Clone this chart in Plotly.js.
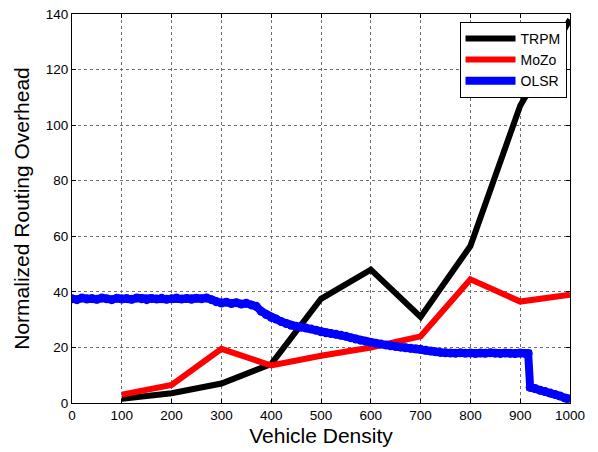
<!DOCTYPE html>
<html><head><meta charset="utf-8">
<script src="https://cdn.plot.ly/plotly-3.0.1.min.js"></script>
<style>html,body{margin:0;padding:0;background:#fff}#chart{width:598px;height:452px}</style>
</head><body><div id="chart"></div>
<script>
var density = [100,200,300,400,500,600,700,800,900,1000];
var trpm = [1.5,3.5,7,14,37.5,48,31,56.5,107,138];
var mozo = [3,6.5,19.5,13.5,17,20,24,44.5,36.5,39];
var olsrX = [0,10,20,30,40,50,60,70,80,90,100,110,120,130,140,150,160,170,180,190,200,210,220,230,240,250,260,270,280,290,300,310,320,330,340,350,360,370,380,390,400,410,420,430,440,450,460,470,480,490,500,510,520,530,540,550,560,570,580,590,600,610,620,630,640,650,660,670,680,690,700,710,720,730,740,750,760,770,780,790,800,810,820,830,840,850,860,870,880,890,900,910,916,920,930,940,950,960,970,980,990,995];
var olsrY = [37.5,37.2,37.8,37.4,37.6,37.3,37.8,37.5,37.2,37.7,37.4,37.6,37.3,37.8,37.5,37.2,37.6,37.4,37.7,37.3,37.5,37.8,37.4,37.6,37.3,37.7,37.5,37.8,37.2,36.4,36.0,36.3,35.8,36.1,35.6,35.9,35.3,34.8,33.0,31.8,30.8,30.2,29.3,28.6,28.0,27.6,27.3,27.0,26.6,26.2,25.6,25.3,25.0,24.7,24.4,24.0,23.5,23.0,22.6,22.2,21.8,21.5,21.2,20.9,20.6,20.3,20.1,19.9,19.7,19.5,19.3,19.0,18.7,18.4,18.2,18.1,18.0,17.9,18.1,17.9,18.0,17.8,18.0,17.9,18.1,17.9,17.8,18.0,17.9,17.8,18.0,17.8,17.8,5.6,5.2,4.6,4.1,3.6,3.1,2.5,1.8,1.6];

var traces = [
  {x: density, y: trpm, name: 'TRPM', mode: 'lines', line: {color: '#000000', width: 6}},
  {x: density, y: mozo, name: 'MoZo', mode: 'lines', line: {color: '#ff0000', width: 6}},
  {x: olsrX, y: olsrY, name: 'OLSR', mode: 'lines', line: {color: '#0000ff', width: 8}},
  {x: olsrX, y: olsrY, name: 'OLSR', mode: 'markers', showlegend: false, marker: {color: '#0000ff', size: 9}}
];
var axisCommon = {
  showline: true, mirror: 'ticks', linecolor: '#000', linewidth: 1,
  ticks: 'inside', ticklen: 4, tickcolor: '#000',
  showgrid: true, gridcolor: '#6e6e6e', griddash: 'dot', gridwidth: 1,
  zeroline: false, tickfont: {family: 'Liberation Sans, Arial', size: 13.5, color: '#000'}
};
var layout = {
  width: 598, height: 452,
  margin: {l: 72, r: 28, t: 14, b: 49},
  paper_bgcolor: '#fff', plot_bgcolor: '#fff',
  showlegend: true,
  legend: {x: 0.993, y: 0.98, xanchor: 'right', yanchor: 'top', bgcolor: '#fff', bordercolor: '#000', borderwidth: 1,
           font: {family: 'Liberation Sans, Arial', size: 14, color: '#000'}, itemwidth: 50, tracegroupgap: 0},
  xaxis: Object.assign({}, axisCommon, {range: [0, 1000], dtick: 100, tick0: 0,
    title: {text: 'Vehicle Density', font: {family: 'Liberation Sans, Arial', size: 21, color: '#000'}, standoff: 6}}),
  yaxis: Object.assign({}, axisCommon, {range: [0, 140], dtick: 20, tick0: 0,
    title: {text: 'Normalized Routing Overhead', font: {family: 'Liberation Sans, Arial', size: 21, color: '#000'}, standoff: 10}})
};
Plotly.newPlot('chart', traces, layout, {displayModeBar: false, staticPlot: true});
</script></body></html>
